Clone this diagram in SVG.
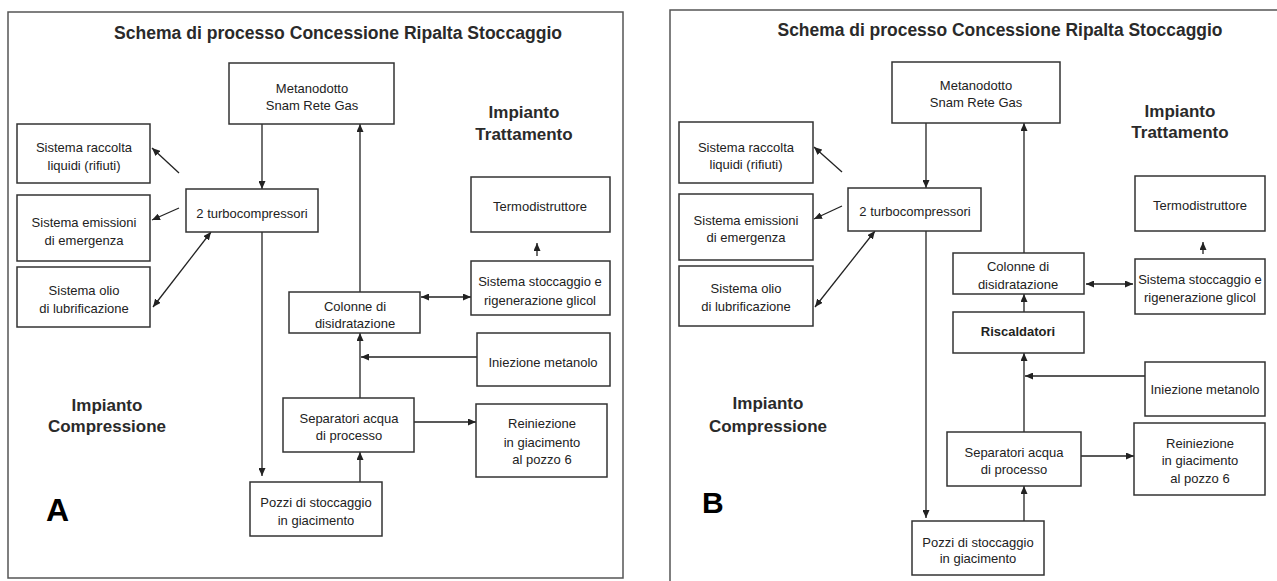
<svg xmlns="http://www.w3.org/2000/svg" width="1277" height="581" viewBox="0 0 1277 581">
<style>
.frame{fill:none;stroke:#555;stroke-width:1.5}
.box{fill:#fff;stroke:#333;stroke-width:1.5}
.t{font-family:"Liberation Sans",Arial,sans-serif;font-size:13px;fill:#222;text-anchor:middle}
.h{font-family:"Liberation Sans",Arial,sans-serif;font-size:17px;font-weight:bold;fill:#2a2a2a;text-anchor:middle}
.ttl{font-family:"Liberation Sans",Arial,sans-serif;font-size:18px;font-weight:bold;fill:#2a2a2a;text-anchor:middle}
.lbl{font-family:"Liberation Sans",Arial,sans-serif;font-weight:bold;fill:#000}
.ln{fill:none;stroke:#222;stroke-width:1.3}
.a{marker-end:url(#ah)}
.d{marker-start:url(#ah);marker-end:url(#ah)}
</style>
<defs>
<marker id="ah" markerUnits="userSpaceOnUse" markerWidth="8" markerHeight="7" refX="8" refY="3.5" orient="auto-start-reverse">
<path d="M0,0 L8,3.5 L0,7 z" fill="#222"/>
</marker>
</defs>
<rect width="1277" height="581" fill="#fff"/>

<!-- Panel A -->
<g id="panelA">
<rect class="frame" x="8" y="12" width="615" height="566"/>
<text class="ttl" x="338" y="39" textLength="448" lengthAdjust="spacingAndGlyphs">Schema di processo Concessione Ripalta Stoccaggio</text>
<text class="h" x="524" y="118">Impianto</text>
<text class="h" x="524" y="140">Trattamento</text>
<text class="h" x="107" y="411">Impianto</text>
<text class="h" x="107" y="432">Compressione</text>
<text class="lbl" x="46" y="521" font-size="32">A</text>
</g>

<g id="connectorsA">
<line class="ln a" x1="262" y1="124" x2="262" y2="189"/>
<line class="ln a" x1="262" y1="232" x2="262" y2="476"/>
<line class="ln a" x1="360" y1="292" x2="360" y2="124"/>
<line class="ln a" x1="179" y1="173" x2="152" y2="148"/>
<line class="ln a" x1="179" y1="208" x2="152" y2="220"/>
<line class="ln d" x1="211" y1="232" x2="153" y2="307"/>
<line class="ln a" x1="537" y1="256" x2="537" y2="243"/>
<line class="ln d" x1="421" y1="297" x2="471" y2="297"/>
<line class="ln a" x1="477" y1="357" x2="361" y2="357"/>
<line class="ln a" x1="360" y1="398" x2="360" y2="333"/>
<line class="ln a" x1="414" y1="422" x2="476" y2="422"/>
<line class="ln a" x1="360" y1="482" x2="360" y2="452"/>
</g>

<g id="A_metanodotto"><rect class="box" x="229" y="63" width="165" height="61"/><text class="t" x="312" y="93">Metanodotto</text><text class="t" x="312" y="110">Snam Rete Gas</text></g>
<g id="A_raccolta"><rect class="box" x="17" y="124" width="133" height="59"/><text class="t" x="84" y="152">Sistema raccolta</text><text class="t" x="84" y="170">liquidi (rifiuti)</text></g>
<g id="A_emissioni"><rect class="box" x="17" y="195" width="133" height="66"/><text class="t" x="84" y="227">Sistema emissioni</text><text class="t" x="84" y="245">di emergenza</text></g>
<g id="A_olio"><rect class="box" x="17" y="267" width="133" height="60"/><text class="t" x="84" y="295">Sistema olio</text><text class="t" x="84" y="313">di lubrificazione</text></g>
<g id="A_turbo"><rect class="box" x="186" y="189" width="132" height="43"/><text class="t" x="252" y="218">2 turbocompressori</text></g>
<g id="A_termo"><rect class="box" x="471" y="177" width="139" height="55"/><text class="t" x="540" y="211">Termodistruttore</text></g>
<g id="A_glicol"><rect class="box" x="471" y="261" width="139" height="54"/><text class="t" x="540" y="286">Sistema stoccaggio e</text><text class="t" x="540" y="305">rigenerazione glicol</text></g>
<g id="A_colonne"><rect class="box" x="289" y="292" width="131" height="41"/><text class="t" x="355" y="311">Colonne di</text><text class="t" x="355" y="328">disidratazione</text></g>
<g id="A_iniezione"><rect class="box" x="477" y="333" width="133" height="53"/><text class="t" x="543" y="367">Iniezione metanolo</text></g>
<g id="A_separatori"><rect class="box" x="283" y="398" width="131" height="54"/><text class="t" x="349" y="423">Separatori acqua</text><text class="t" x="349" y="440">di processo</text></g>
<g id="A_reiniezione"><rect class="box" x="476" y="404" width="131" height="73"/><text class="t" x="542" y="428">Reiniezione</text><text class="t" x="542" y="447">in giacimento</text><text class="t" x="542" y="464">al pozzo 6</text></g>
<g id="A_pozzi"><rect class="box" x="250" y="482" width="132" height="54"/><text class="t" x="316" y="507">Pozzi di stoccaggio</text><text class="t" x="316" y="525">in giacimento</text></g>

<!-- Panel B -->
<g id="panelB">
<path class="frame" d="M670,581 V10 H1277"/>
<text class="ttl" x="1000" y="36" textLength="445" lengthAdjust="spacingAndGlyphs">Schema di processo Concessione Ripalta Stoccaggio</text>
<text class="h" x="1180" y="117">Impianto</text>
<text class="h" x="1180" y="138">Trattamento</text>
<text class="h" x="768" y="409">Impianto</text>
<text class="h" x="768" y="432">Compressione</text>
<text class="lbl" x="702" y="513" font-size="30">B</text>
</g>

<g id="connectorsB">
<line class="ln a" x1="926" y1="123" x2="926" y2="188"/>
<line class="ln a" x1="926" y1="231" x2="926" y2="518"/>
<line class="ln a" x1="1024" y1="253" x2="1024" y2="123"/>
<line class="ln a" x1="842" y1="172" x2="814" y2="147"/>
<line class="ln a" x1="842" y1="206" x2="814" y2="219"/>
<line class="ln d" x1="875" y1="231" x2="815" y2="307"/>
<line class="ln a" x1="1203" y1="254" x2="1203" y2="242"/>
<line class="ln d" x1="1086" y1="284" x2="1133" y2="284"/>
<line class="ln a" x1="1024" y1="312" x2="1024" y2="294"/>
<line class="ln a" x1="1145" y1="376" x2="1025" y2="376"/>
<line class="ln a" x1="1024" y1="432" x2="1024" y2="353"/>
<line class="ln a" x1="1081" y1="456" x2="1134" y2="456"/>
<line class="ln a" x1="1024" y1="521" x2="1024" y2="486"/>
</g>

<g id="B_metanodotto"><rect class="box" x="892" y="62" width="168" height="61"/><text class="t" x="976" y="90">Metanodotto</text><text class="t" x="976" y="107">Snam Rete Gas</text></g>
<g id="B_raccolta"><rect class="box" x="679" y="122" width="134" height="61"/><text class="t" x="746" y="152">Sistema raccolta</text><text class="t" x="746" y="169">liquidi (rifiuti)</text></g>
<g id="B_emissioni"><rect class="box" x="679" y="194" width="134" height="66"/><text class="t" x="746" y="225">Sistema emissioni</text><text class="t" x="746" y="242">di emergenza</text></g>
<g id="B_olio"><rect class="box" x="679" y="266" width="134" height="60"/><text class="t" x="746" y="293">Sistema olio</text><text class="t" x="746" y="311">di lubrificazione</text></g>
<g id="B_turbo"><rect class="box" x="848" y="188" width="133" height="43"/><text class="t" x="915" y="216">2 turbocompressori</text></g>
<g id="B_termo"><rect class="box" x="1135" y="176" width="130" height="55"/><text class="t" x="1200" y="210">Termodistruttore</text></g>
<g id="B_glicol"><rect class="box" x="1135" y="259" width="130" height="55"/><text class="t" x="1200" y="284">Sistema stoccaggio e</text><text class="t" x="1200" y="302">rigenerazione glicol</text></g>
<g id="B_colonne"><rect class="box" x="953" y="253" width="131" height="41"/><text class="t" x="1018" y="271">Colonne di</text><text class="t" x="1018" y="289">disidratazione</text></g>
<g id="B_riscaldatori"><rect class="box" x="953" y="312" width="131" height="41"/><text class="t" x="1018" y="336" font-size="12.5" font-weight="bold">Riscaldatori</text></g>
<g id="B_iniezione"><rect class="box" x="1145" y="362" width="120" height="54"/><text class="t" x="1205" y="394">Iniezione metanolo</text></g>
<g id="B_separatori"><rect class="box" x="947" y="432" width="134" height="54"/><text class="t" x="1014" y="457">Separatori acqua</text><text class="t" x="1014" y="474">di processo</text></g>
<g id="B_reiniezione"><rect class="box" x="1134" y="423" width="131" height="72"/><text class="t" x="1200" y="448">Reiniezione</text><text class="t" x="1200" y="465">in giacimento</text><text class="t" x="1200" y="483">al pozzo 6</text></g>
<g id="B_pozzi"><rect class="box" x="912" y="521" width="132" height="54"/><text class="t" x="978" y="547">Pozzi di stoccaggio</text><text class="t" x="978" y="563">in giacimento</text></g>
</svg>
